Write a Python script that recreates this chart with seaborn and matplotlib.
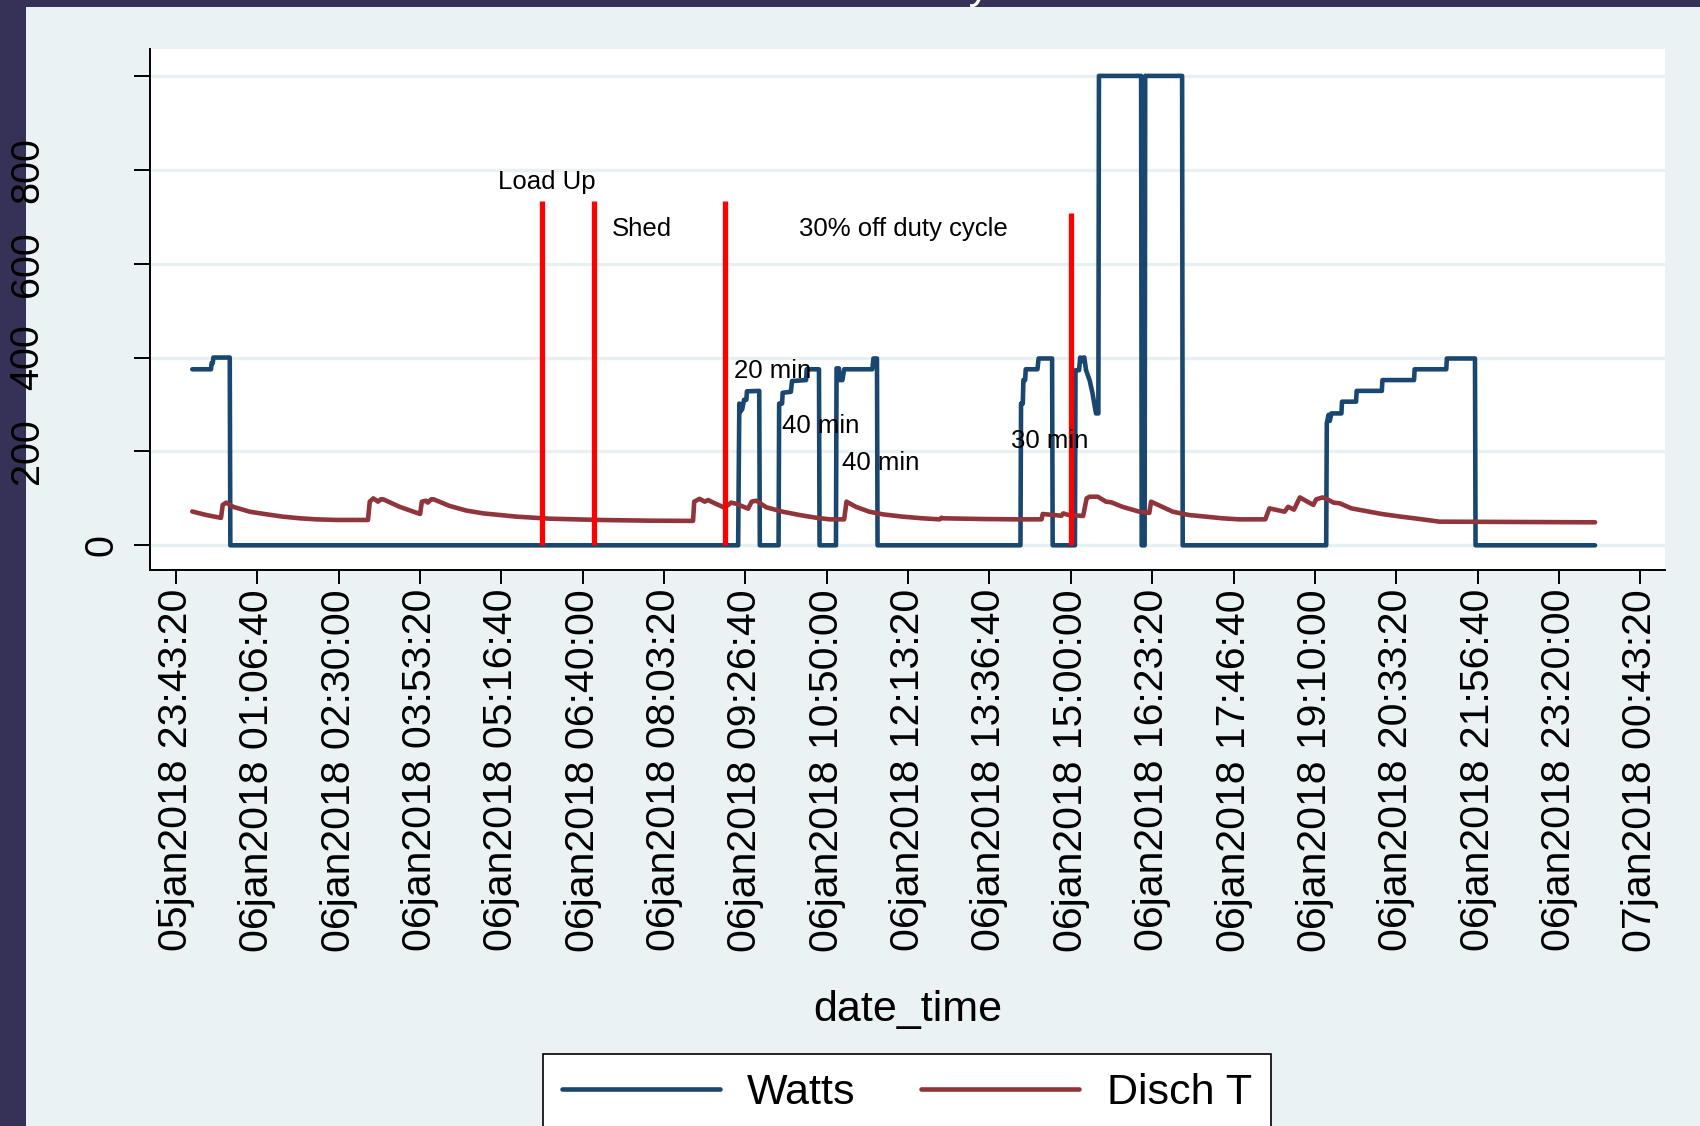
import numpy as np
import pandas as pd
import matplotlib
matplotlib.use("Agg")
import matplotlib.pyplot as plt
import matplotlib.dates as mdates
import matplotlib.transforms as mtransforms
from matplotlib.patches import Rectangle
import seaborn as sns

# ---------------------------------------------------------------- data
day_start = "2018-01-06 00:00:00"

# Element power (W), hour of day on 06jan2018
watts_hour = [0.00, 0.32, 0.33, 0.35, 0.36, 0.64, 0.65,
              9.32, 9.34, 9.36, 9.39, 9.42, 9.46, 9.47, 9.68, 9.69,
              10.01, 10.02, 10.07, 10.08, 10.22, 10.24, 10.48, 10.49, 10.70, 10.71,
              10.99, 11.00, 11.04, 11.05, 11.10, 11.13, 11.61, 11.63, 11.69, 11.70,
              14.14, 14.15, 14.18, 14.19, 14.22, 14.23, 14.43, 14.45, 14.68, 14.69,
              15.07, 15.08, 15.14, 15.16, 15.19, 15.21, 15.23, 15.26, 15.32, 15.37,
              15.41, 15.43, 15.47, 15.48, 16.20, 16.21, 16.26, 16.27, 16.90, 16.91,
              19.36, 19.37, 19.40, 19.42, 19.45, 19.62, 19.63, 19.87, 19.88, 20.31,
              20.32, 20.86, 20.87, 21.41, 21.42, 21.90, 21.91, 23.95]
watts_val = [375, 375, 388, 388, 400, 400, 0,
             0, 302, 285, 290, 310, 310, 328, 329, 0,
             0, 302, 302, 325, 327, 350, 352, 375, 375, 0,
             0, 377, 377, 352, 352, 375, 375, 398, 398, 0,
             0, 302, 302, 352, 352, 375, 375, 398, 398, 0,
             0, 373, 373, 400, 392, 400, 400, 373, 352, 324,
             295, 281, 281, 1000, 1000, 0, 0, 1000, 1000, 0,
             0, 260, 278, 265, 281, 281, 306, 306, 329, 329,
             352, 352, 375, 375, 398, 398, 0, 0]

# Discharge temperature, hour of day on 06jan2018
disch_hour = [0.00, 0.24, 0.49, 0.52, 0.58, 0.70, 0.98, 1.27, 1.55, 1.84,
              2.12, 2.46, 3.00, 3.03, 3.09, 3.14, 3.17, 3.22, 3.26, 3.54,
              3.89, 3.92, 3.99, 4.02, 4.08, 4.12, 4.39, 4.68, 4.97, 5.54,
              6.11, 6.96, 7.81, 8.55, 8.57, 8.66, 8.75, 8.81, 8.86, 9.09,
              9.20, 9.30, 9.49, 9.55, 9.63, 9.80, 10.08, 10.37, 10.65, 10.88,
              11.13, 11.17, 11.33, 11.56, 11.79, 12.13, 12.47, 12.76, 12.79, 12.82,
              13.50, 14.07, 14.50, 14.52, 14.84, 14.87, 14.95, 15.21, 15.27, 15.32,
              15.46, 15.60, 15.69, 15.88, 16.17, 16.34, 16.37, 16.74, 17.02, 17.31,
              17.59, 17.87, 18.32, 18.39, 18.65, 18.71, 18.81, 18.91, 19.01, 19.14,
              19.19, 19.30, 19.40, 19.49, 19.59, 19.79, 20.31, 20.64, 20.96, 21.29,
              23.95]
disch_val = [72, 64.5, 58.5, 86, 91, 82, 71.6, 66, 61, 57.5,
             55.3, 54, 54, 93, 100, 96, 93, 98, 98, 82,
             66.7, 93, 95, 91, 98, 98, 84, 74, 68, 61,
             56.7, 54, 52.5, 52, 93, 99, 93, 96.5, 93, 80,
             91, 88, 78, 93, 95, 81, 71.6, 64.5, 58.8, 55.3,
             55.3, 93, 82, 71.6, 66, 61, 57.5, 55.3, 58.8, 57.5,
             56, 55.3, 55.3, 66.7, 63, 68, 65, 62.5, 100, 103.5,
             103.5, 93, 91.6, 82, 71.6, 69, 93, 71.6, 64.5, 61,
             57.5, 55.3, 55.3, 78.7, 71.6, 82, 76, 102, 95, 86,
             98, 102, 96.5, 90.8, 89.5, 78.7, 66.7, 61, 56, 50.4,
             49]

# Event markers (hour of day) and their heights
event_hour = [5.97, 6.86, 9.10, 15.00]
event_top = [734, 734, 734, 707]

# Text notes: label, hour of day, baseline value
note_text = ["Load Up", "Shed", "30% off duty cycle", "20 min", "40 min", "40 min", "30 min"]
note_hour = [6.05, 7.68, 12.14, 9.91, 10.73, 11.75, 14.64]
note_val = [759, 658, 658, 356, 239, 160, 207]

x_tick_labels = ["05jan2018 23:43:20", "06jan2018 01:06:40", "06jan2018 02:30:00",
                 "06jan2018 03:53:20", "06jan2018 05:16:40", "06jan2018 06:40:00",
                 "06jan2018 08:03:20", "06jan2018 09:26:40", "06jan2018 10:50:00",
                 "06jan2018 12:13:20", "06jan2018 13:36:40", "06jan2018 15:00:00",
                 "06jan2018 16:23:20", "06jan2018 17:46:40", "06jan2018 19:10:00",
                 "06jan2018 20:33:20", "06jan2018 21:56:40", "06jan2018 23:20:00",
                 "07jan2018 00:43:20"]
y_tick_values = [0, 200, 400, 600, 800, 1000]
y_tick_labels = ["0", "200", "400", "600", "800", ""]

series_colors = {"Watts": "#1A476F", "Disch T": "#90353B"}

# ---------------------------------------------------------------- style
sns.set_theme(style="white")
plt.rcParams["font.family"] = ["Liberation Sans", "DejaVu Sans"]
plt.rcParams["text.color"] = "black"
plt.rcParams["axes.labelcolor"] = "black"
plt.rcParams["xtick.color"] = "black"
plt.rcParams["ytick.color"] = "black"
BG = "#EAF2F3"
LW = 3.3

W, H = 1700, 1126
fig = plt.figure(figsize=(W / 100, H / 100), dpi=100)
fig.patch.set_facecolor(BG)
ax = fig.add_axes([150 / W, 1 - 570 / H, (1665 - 150) / W, (570 - 49) / H])
ax.set_facecolor("white")

# dark frame strips on the left and top edges
fig.add_artist(Rectangle((0, 0), 26 / W, 1, transform=fig.transFigure,
                         facecolor="#363257", edgecolor="none", zorder=-1))
fig.add_artist(Rectangle((0, 1 - 7 / H), 1, 7 / H, transform=fig.transFigure,
                         facecolor="#363257", edgecolor="none", zorder=-1))

base = pd.Timestamp(day_start)
to_time = lambda hrs: base + pd.to_timedelta(np.asarray(hrs, dtype=float), unit="h")

df = pd.concat([
    pd.DataFrame({"date_time": to_time(watts_hour), "value": watts_val, "series": "Watts"}),
    pd.DataFrame({"date_time": to_time(disch_hour), "value": disch_val, "series": "Disch T"}),
], ignore_index=True)

sns.lineplot(data=df, x="date_time", y="value", hue="series",
             hue_order=["Watts", "Disch T"], palette=series_colors,
             estimator=None, sort=False, lw=LW, ax=ax)

# event markers
ax.vlines(to_time(event_hour), 0, event_top, colors="#FF0000", lw=3.8, zorder=5)

# notes
for txt, hr, val in zip(note_text, note_hour, note_val):
    ax.text(mdates.date2num(to_time([hr])[0]), val, txt, ha="center", va="baseline",
            fontsize=18.5, color="black", zorder=6)

# axes limits and ticks
tick_times = pd.to_datetime(x_tick_labels, format="%d%b%Y %H:%M:%S")
ax.set_xlim(tick_times[0] - pd.Timedelta(seconds=1598),
            tick_times[-1] + pd.Timedelta(seconds=1520))
ax.set_ylim(-52.6, 1057.3)
ax.set_xticks(tick_times)
ax.set_xticklabels(x_tick_labels)
ax.set_yticks(y_tick_values)
ax.set_yticklabels([])

ax.tick_params(axis="x", direction="out", length=10, width=1.4, pad=3.6,
               labelsize=29.5, labelrotation=90, colors="black", bottom=True)
ax.tick_params(axis="y", direction="out", length=11.5, width=1.4, left=True,
               colors="black")

# vertical y labels, spaced off the axis by their length
ylab_tf = mtransforms.blended_transform_factory(fig.transFigure, ax.transData)
for val, lbl in zip(y_tick_values, y_tick_labels):
    if lbl:
        cx = (101 - 36.75 * (len(lbl) - 1)) / W
        ax.text(cx, val, lbl, rotation=90, ha="center", va="center", color="black",
                fontsize=28.5, transform=ylab_tf, clip_on=False)

ax.grid(False)
ax.yaxis.grid(True, color="#E8F0F2", lw=2.4)
ax.set_axisbelow(True)

for side in ["top", "right"]:
    ax.spines[side].set_visible(False)
for side in ["left", "bottom"]:
    ax.spines[side].set_color("black")
    ax.spines[side].set_linewidth(1.4)

ax.set_ylabel("")
ax.set_xlabel("date_time", fontsize=31, color="black")
ax.xaxis.label.set_va("center")
ax.xaxis.set_label_coords(0.5, -(1010 - 570) / (570 - 49))

# legend
handles, labels = ax.get_legend_handles_labels()
if ax.get_legend() is not None:
    ax.get_legend().remove()
leg = fig.legend(handles, labels, loc="upper left",
                 bbox_to_anchor=(543 / W, 1 - 1054 / H), ncol=2, fontsize=31,
                 handlelength=3.67, handletextpad=0.63, columnspacing=1.53,
                 borderpad=0.44, borderaxespad=0, frameon=True, fancybox=False,
                 edgecolor="black", framealpha=1, facecolor="white",
                 labelcolor="black")
leg.get_frame().set_linewidth(1.2)
for h in leg.legend_handles:
    h.set_linewidth(LW)

# title sits above the visible area
fig.text(990 / W, 1 + 2 / H, "Water Heater Load on Saturday", ha="right",
         va="baseline", color="white", fontsize=31, zorder=5)

fig.savefig("out.png", dpi=100, facecolor=fig.get_facecolor())
